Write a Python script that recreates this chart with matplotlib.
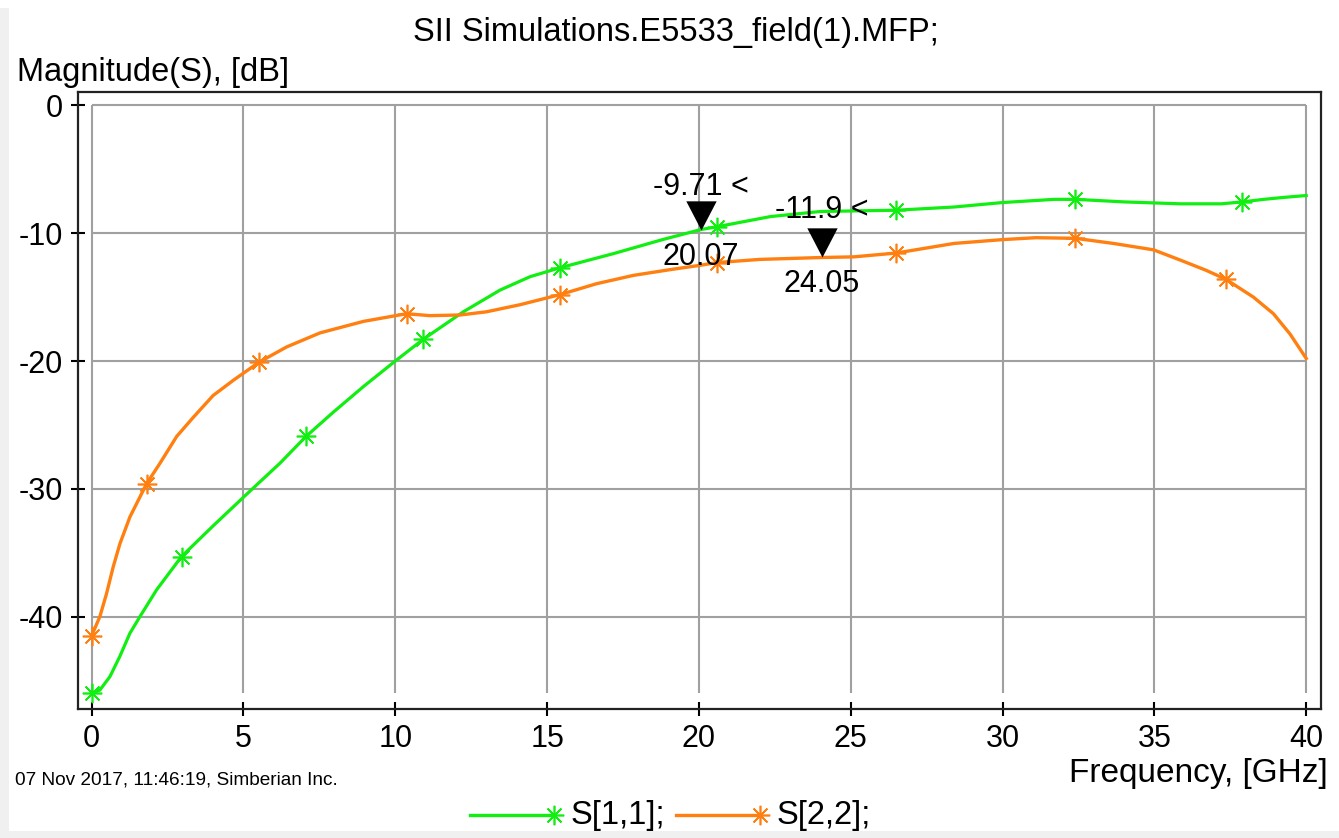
import numpy as np
import matplotlib
matplotlib.use("Agg")
import matplotlib.pyplot as plt
from matplotlib.lines import Line2D
from matplotlib.patches import Rectangle

plt.rcParams['font.family'] = ['Liberation Sans', 'DejaVu Sans']

# S[1,1] (GHz, dB)
s11_f = [0, 0.27, 0.6, 0.93, 1.26, 1.59, 2.14, 2.96, 4.0, 5.16, 6.2, 7.06, 7.96,
         8.95, 10.0, 10.92, 12.24, 13.45, 14.44, 15.43, 17.18, 18.8, 20.07, 20.58,
         22.35, 24.0, 26.5, 28.4, 30.0, 31.7, 32.4, 34.0, 35.85, 37.2, 37.9, 38.6,
         39.25, 40.0]
s11_db = [-46.0, -45.75, -44.7, -43.1, -41.3, -40.0, -37.9, -35.3, -32.9, -30.3,
          -28.0, -25.9, -24.0, -22.0, -20.0, -18.3, -16.15, -14.45, -13.4, -12.7,
          -11.6, -10.5, -9.71, -9.5, -8.7, -8.3, -8.2, -7.95, -7.6, -7.35, -7.35,
          -7.55, -7.7, -7.7, -7.55, -7.35, -7.2, -7.05]
s11_mk = [0, 2.96, 7.06, 10.92, 15.43, 20.58, 26.5, 32.4, 37.9]

# S[2,2]
s22_f = [0, 0.27, 0.49, 0.71, 0.93, 1.26, 1.81, 2.25, 2.8, 3.35, 4.0, 4.67, 5.51,
         6.42, 7.52, 8.95, 10.37, 11.14, 12.13, 13.0, 14.1, 15.43, 16.63, 17.84,
         19.05, 20.07, 20.58, 22.0, 24.05, 25.1, 26.5, 28.4, 30.0, 31.1, 32.4,
         33.65, 34.97, 35.85, 36.7, 37.35, 38.26, 38.92, 39.47, 40.0]
s22_db = [-41.5, -40.0, -38.2, -36.1, -34.3, -32.2, -29.6, -28.0, -25.9, -24.4,
          -22.7, -21.5, -20.1, -18.9, -17.8, -16.9, -16.3, -16.45, -16.4, -16.15,
          -15.6, -14.8, -13.95, -13.3, -12.85, -12.5, -12.3, -12.05, -11.9, -11.85,
          -11.55, -10.8, -10.5, -10.35, -10.4, -10.8, -11.3, -12.1, -12.9, -13.6,
          -15.0, -16.3, -17.9, -19.8]
s22_mk = [0, 1.81, 5.51, 10.37, 15.43, 20.58, 26.5, 32.4, 37.35]

# marcadores
mk_f = [20.07, 24.05]
mk_db = [-9.71, -11.9]
mk_top = ["-9.71 <", "-11.9 <"]
mk_bot = ["20.07", "24.05"]

xt = [0, 5, 10, 15, 20, 25, 30, 35, 40]
yt = [0, -10, -20, -30, -40]

verde = '#11ee11'
naranja = '#ff8010'
fs = 22
fs_lab = 23.5
star = (8, 2, 0)

fig = plt.figure(figsize=(13.39, 8.38), dpi=100)
fig.patch.set_facecolor('white')
# bordes grises de la ventana
fig.add_artist(Rectangle((0, 0), 9 / 1339, 1 - 8 / 838, transform=fig.transFigure,
                         color='#f0f0f0', lw=0))
fig.add_artist(Rectangle((0, 0), 1, 7 / 838, transform=fig.transFigure,
                         color='#f0f0f0', lw=0))

ax = fig.add_axes([78 / 1339, 1 - 709 / 838, 1242.5 / 1339, 617 / 838])
ax.set_xlim(-0.45, 40.47)
ax.set_ylim(-47.23, 1.05)

# rejilla solo dentro del rango de datos
ax.vlines(xt, -46.0, 0, color='#a0a0a0', lw=1.5, zorder=1)
ax.hlines(yt, 0, 40, color='#a0a0a0', lw=1.5, zorder=1)

ax.plot(s11_f, s11_db, color=verde, lw=2.3, marker=star, ms=14, mew=1.2,
        markevery=[s11_f.index(f) for f in s11_mk], zorder=3)
ax.plot(s22_f, s22_db, color=naranja, lw=2.4, marker=star, ms=14, mew=1.2,
        markevery=[s22_f.index(f) for f in s22_mk], zorder=3)

tri = [(0, 0), (-0.52, 1), (0.52, 1), (0, 0)]
for f, v, t1, t2 in zip(mk_f, mk_db, mk_top, mk_bot):
    ax.plot([f], [v], marker=tri, ms=42, color='black', mew=0, zorder=5)
    dy = 43 if t1.startswith('-9') else 47
    ax.annotate(t1, xy=(f, v), xytext=(0, dy), textcoords='offset pixels',
                ha='center', va='center', fontsize=fs, zorder=6)
    ax.annotate(t2, xy=(f, v), xytext=(0, -27), textcoords='offset pixels',
                ha='center', va='center', fontsize=fs, zorder=6)

ax.set_xticks(xt)
ax.set_yticks(yt)
ax.set_xticklabels([str(v) for v in xt])
ax.set_yticklabels([str(v) for v in yt])
ax.tick_params(direction='inout', length=10, width=1.5, labelsize=fs, pad=6,
               color='black')
for s in ax.spines.values():
    s.set_linewidth(1.6)
    s.set_color('#222222')

fig.text(676 / 1339, 1 - 32 / 838, "SII Simulations.E5533_field(1).MFP;",
         ha='center', va='center', fontsize=fs_lab)
fig.text(17 / 1339, 1 - 73 / 838, "Magnitude(S), [dB]", ha='left', va='center',
         fontsize=fs_lab)
fig.text(1328 / 1339, 1 - 773 / 838, "Frequency, [GHz]", ha='right', va='center',
         fontsize=24)
fig.text(15 / 1339, 1 - 780 / 838, "07 Nov 2017, 11:46:19, Simberian Inc.",
         ha='left', va='center', fontsize=13.7)

# leyenda
ly = 1 - 815 / 838
for x0, x1, c, lab, tx in [(470, 554, verde, "S[1,1];", 571),
                           (676, 760, naranja, "S[2,2];", 777)]:
    fig.add_artist(Line2D([x0 / 1339, x1 / 1339], [ly, ly], transform=fig.transFigure,
                          color=c, lw=2.4))
    fig.add_artist(Line2D([x1 / 1339], [ly], transform=fig.transFigure, color=c,
                          marker=star, ms=14, mew=1.2, lw=0))
    fig.text(tx / 1339, ly, lab, ha='left', va='center', fontsize=fs_lab)

fig.savefig("out.png", dpi=100)
